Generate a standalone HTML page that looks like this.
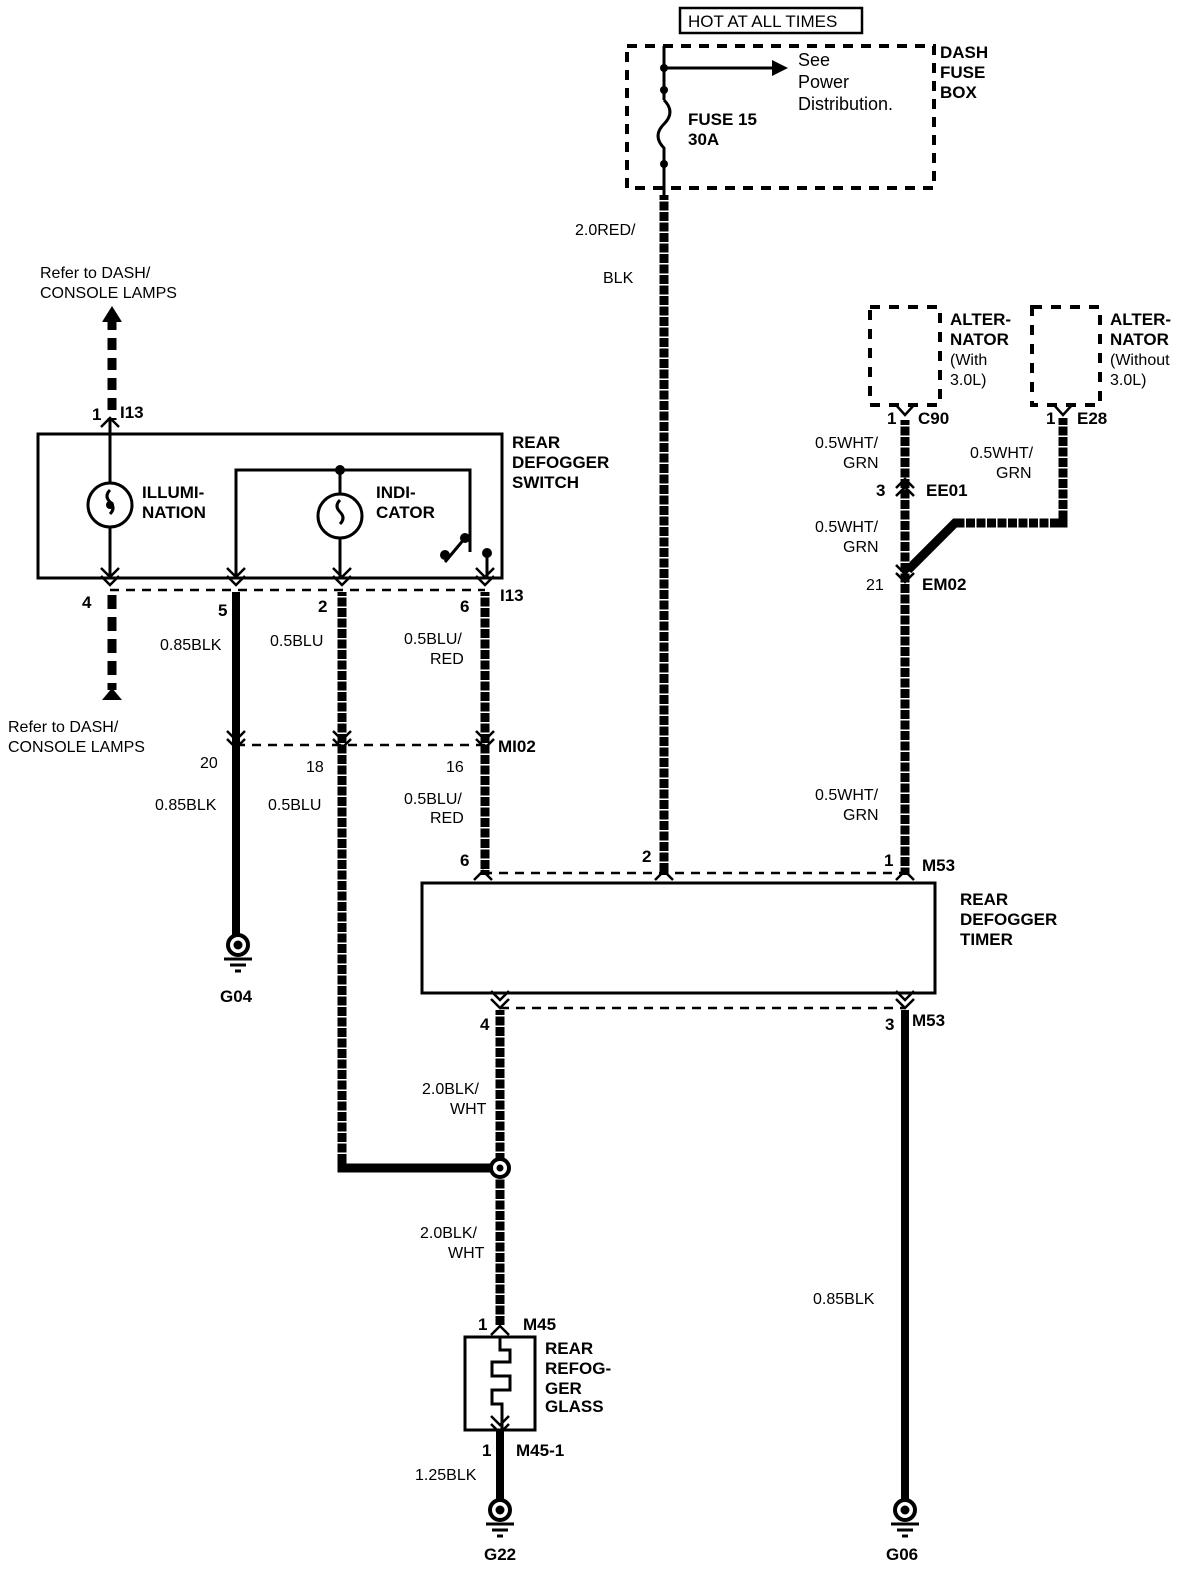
<!DOCTYPE html>
<html><head><style>
html,body{margin:0;padding:0;background:#fff}
svg text{font-family:"Liberation Sans",Arial,sans-serif;fill:#000}
.b{font-weight:bold;font-size:17px}
.n{font-size:16px}
</style></head><body>
<svg width="1200" height="1574" viewBox="0 0 1200 1574" xmlns="http://www.w3.org/2000/svg">
<defs>
<g id="gnd"><circle cx="0" cy="0" r="10" fill="#fff" stroke="#000" stroke-width="4"/><circle cx="0" cy="0" r="4.5" fill="#000"/><line x1="-14" y1="14" x2="14" y2="14" stroke="#000" stroke-width="3"/><line x1="-8" y1="20" x2="8" y2="20" stroke="#000" stroke-width="3"/><line x1="-3" y1="26" x2="3" y2="26" stroke="#000" stroke-width="3"/></g>
<g id="chev"><path d="M-9,-7 L0,2 L9,-7 M-9,1 L0,10 L9,1" fill="none" stroke="#000" stroke-width="2.5"/></g>
</defs>
<g fill="none" stroke="#000">
<rect x="680" y="8" width="182" height="25" stroke-width="2.5"/>
<rect x="627" y="46" width="307" height="142" stroke-width="4" stroke-dasharray="10 8"/>
<line x1="664" y1="46" x2="664" y2="100" stroke-width="3"/>
<path d="M664,100 q12,12 0,24 q-12,12 0,24 L664,195" stroke-width="3"/>
<line x1="664" y1="68" x2="775" y2="68" stroke-width="3"/>
</g>
<polygon points="772,60 788,68 772,76" fill="#000"/>
<circle cx="664" cy="68" r="4" fill="#000"/><circle cx="664" cy="90" r="4" fill="#000"/><circle cx="664" cy="164" r="4" fill="#000"/>

<g fill="none" stroke="#000" stroke-width="9">
<path d="M664,195 V875"/>
<path d="M342,592 V1168 H500"/>
<path d="M485,592 V875"/>
<path d="M905,420 V875"/>
<path d="M1063,418 V523 H955 L908,570"/>
<path d="M500,1010 V1325"/>
</g>
<g fill="none" stroke="#fff" stroke-width="9" stroke-dasharray="1.5 9">
<path d="M664,200 V870"/>
<path d="M342,596 V1162"/>
<path d="M485,596 V870"/>
<path d="M905,425 V870"/>
<path d="M1063,425 V518"/>
<path d="M1050,523 H960"/>
<path d="M500,1015 V1160"/>
<path d="M500,1178 V1320"/>
</g>
<g stroke="#000" stroke-width="8" fill="none">
<path d="M236,592 V935"/>
<path d="M905,1010 V1500"/>
<path d="M500,1430 V1500"/>
<path d="M112,318 V420" stroke-dasharray="12 8" stroke-width="9"/>
<path d="M112,595 V690" stroke-dasharray="14 8" stroke-width="9"/>
</g>
<polygon points="102,322 112,306 122,322" fill="#000"/>
<polygon points="102,700 112,688 122,700" fill="#000"/>
<g transform="translate(238,945)"><use href="#gnd"/></g>
<g transform="translate(905,1510)"><use href="#gnd"/></g>
<g transform="translate(500,1510)"><use href="#gnd"/></g>
<circle cx="500" cy="1168" r="9" fill="#fff" stroke="#000" stroke-width="4"/><circle cx="500" cy="1168" r="3.5" fill="#000"/>

<g fill="none" stroke="#000" stroke-width="3">
<rect x="38" y="434" width="464" height="144"/>
<path d="M236,578 V470 H470 V552"/>
<line x1="110" y1="420" x2="110" y2="578"/>
<circle cx="110" cy="505" r="22" fill="#fff"/>
<path d="M110,490 q-6,6 0,12 q6,6 0,12"/>
<line x1="340" y1="470" x2="340" y2="578"/>
<circle cx="340" cy="516" r="22" fill="#fff"/>
<path d="M340,500 q-6,6 0,12 q6,6 0,12"/>
<line x1="465" y1="538" x2="445" y2="562"/>
<line x1="487" y1="555" x2="487" y2="578"/>
<line x1="110" y1="590" x2="485" y2="590" stroke-dasharray="9 7" stroke-width="2.5"/>
<line x1="236" y1="745" x2="485" y2="745" stroke-dasharray="9 7" stroke-width="2.5"/>
<line x1="483" y1="873" x2="905" y2="873" stroke-dasharray="9 7" stroke-width="2.5"/>
<line x1="500" y1="1008" x2="905" y2="1008" stroke-dasharray="9 7" stroke-width="2.5"/>
<rect x="422" y="883" width="513" height="110"/>
<rect x="465" y="1337" width="70" height="93"/>
<path d="M500,1337 V1350 h10 v12 h-18 v14 h18 v14 h-18 v14 h10 V1430"/>
<rect x="870" y="307" width="70" height="98" stroke-dasharray="10 9" stroke-width="4"/>
<rect x="1032" y="307" width="68" height="98" stroke-dasharray="10 9" stroke-width="4"/>
</g>
<circle cx="110" cy="505" r="4" fill="#000"/><circle cx="340" cy="470" r="5" fill="#000"/><circle cx="465" cy="538" r="5" fill="#000"/><circle cx="445" cy="555" r="5" fill="#000"/><circle cx="487" cy="553" r="5" fill="#000"/>
<g>
<use href="#chev" x="110" y="575"/><use href="#chev" x="236" y="575"/><use href="#chev" x="342" y="575"/><use href="#chev" x="485" y="575"/>
<use href="#chev" x="236" y="738"/><use href="#chev" x="342" y="738"/><use href="#chev" x="485" y="738"/>
<use href="#chev" x="905" y="572"/>
<use href="#chev" x="500" y="998"/><use href="#chev" x="905" y="998"/>
<use href="#chev" x="500" y="1423"/>
</g>
<g fill="none" stroke="#000" stroke-width="2.5">
<path d="M101,427 L110,418 L119,427"/>
<path d="M474,880 L483,871 L492,880 M655,880 L664,871 L673,880 M896,880 L905,871 L914,880"/>
<path d="M896,488 L905,479 L914,488 M896,496 L905,487 L914,496"/>
<path d="M896,405 L905,415 L914,405 M1054,405 L1063,415 L1072,405"/>
<path d="M491,1335 L500,1326 L509,1335"/>
</g>

<text x="688" y="27" class="n" style="font-size:17px">HOT AT ALL TIMES</text>
<text class="b" x="940" y="58">DASH</text><text class="b" x="940" y="78">FUSE</text><text class="b" x="940" y="98">BOX</text>
<text class="n" x="798" y="66" style="font-size:18px">See</text><text class="n" x="798" y="88" style="font-size:18px">Power</text><text class="n" x="798" y="110" style="font-size:18px">Distribution.</text>
<text class="b" x="688" y="125">FUSE 15</text><text class="b" x="688" y="145">30A</text>
<text class="n" x="575" y="235">2.0RED/</text><text class="n" x="603" y="283">BLK</text>
<text class="n" x="40" y="278">Refer to DASH/</text><text class="n" x="40" y="298">CONSOLE LAMPS</text>
<text class="n" x="8" y="732">Refer to DASH/</text><text class="n" x="8" y="752">CONSOLE LAMPS</text>
<text class="b" x="92" y="420">1</text><text class="b" x="120" y="418">I13</text>
<text class="b" x="512" y="448">REAR</text><text class="b" x="512" y="468">DEFOGGER</text><text class="b" x="512" y="488">SWITCH</text>
<text class="b" x="142" y="498">ILLUMI-</text><text class="b" x="142" y="518">NATION</text>
<text class="b" x="376" y="498">INDI-</text><text class="b" x="376" y="518">CATOR</text>
<text class="b" x="82" y="608">4</text><text class="b" x="218" y="616">5</text><text class="b" x="318" y="612">2</text><text class="b" x="460" y="612">6</text><text class="b" x="500" y="601">I13</text>
<text class="n" x="160" y="650">0.85BLK</text><text class="n" x="270" y="646">0.5BLU</text>
<text class="n" x="404" y="644">0.5BLU/</text><text class="n" x="430" y="664">RED</text>
<text class="b" x="498" y="752">MI02</text>
<text class="n" x="200" y="768">20</text><text class="n" x="306" y="772">18</text><text class="n" x="446" y="772">16</text>
<text class="n" x="155" y="810">0.85BLK</text><text class="n" x="268" y="810">0.5BLU</text>
<text class="n" x="404" y="804">0.5BLU/</text><text class="n" x="430" y="823">RED</text>
<text class="b" x="460" y="866">6</text><text class="b" x="642" y="862">2</text><text class="b" x="884" y="866">1</text><text class="b" x="922" y="871">M53</text>
<text class="b" x="960" y="905">REAR</text><text class="b" x="960" y="925">DEFOGGER</text><text class="b" x="960" y="945">TIMER</text>
<text class="b" x="220" y="1002">G04</text>
<text class="b" x="480" y="1030">4</text><text class="b" x="885" y="1030">3</text><text class="b" x="912" y="1026">M53</text>
<text class="n" x="422" y="1094">2.0BLK/</text><text class="n" x="450" y="1114">WHT</text>
<text class="n" x="420" y="1238">2.0BLK/</text><text class="n" x="448" y="1258">WHT</text>
<text class="n" x="813" y="1304">0.85BLK</text>
<text class="b" x="478" y="1330">1</text><text class="b" x="523" y="1330">M45</text>
<text class="b" x="545" y="1354">REAR</text><text class="b" x="545" y="1374">REFOG-</text><text class="b" x="545" y="1394">GER</text><text class="b" x="545" y="1412">GLASS</text>
<text class="b" x="482" y="1456">1</text><text class="b" x="516" y="1456">M45-1</text>
<text class="n" x="415" y="1480">1.25BLK</text>
<text class="b" x="484" y="1560">G22</text><text class="b" x="886" y="1560">G06</text>
<text class="b" x="950" y="325">ALTER-</text><text class="b" x="950" y="345">NATOR</text><text class="n" x="950" y="365">(With</text><text class="n" x="950" y="385">3.0L)</text>
<text class="b" x="1110" y="325">ALTER-</text><text class="b" x="1110" y="345">NATOR</text><text class="n" x="1110" y="365">(Without</text><text class="n" x="1110" y="385">3.0L)</text>
<text class="b" x="887" y="424">1</text><text class="b" x="918" y="424">C90</text>
<text class="b" x="1046" y="424">1</text><text class="b" x="1077" y="424">E28</text>
<text class="n" x="815" y="448">0.5WHT/</text><text class="n" x="843" y="468">GRN</text>
<text class="n" x="970" y="458">0.5WHT/</text><text class="n" x="996" y="478">GRN</text>
<text class="b" x="876" y="496">3</text><text class="b" x="926" y="496">EE01</text>
<text class="n" x="815" y="532">0.5WHT/</text><text class="n" x="843" y="552">GRN</text>
<text class="n" x="866" y="590">21</text><text class="b" x="922" y="590">EM02</text>
<text class="n" x="815" y="800">0.5WHT/</text><text class="n" x="843" y="820">GRN</text>
</svg>
</body></html>
